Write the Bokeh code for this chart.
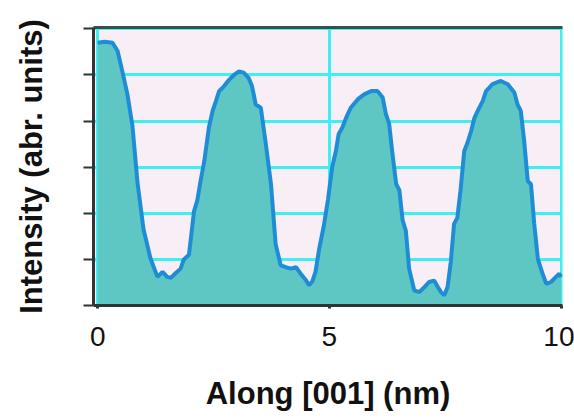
from bokeh.plotting import figure
from bokeh.models import LinearAxis, FixedTicker, Range1d
from bokeh.embed import file_html
from bokeh.resources import INLINE

# Line profile of intensity along the [001] direction
position_nm = [0, 0.15, 0.32, 0.43, 0.53, 0.64, 0.75, 0.86, 0.99, 1.14,
               1.29, 1.40, 1.50, 1.58, 1.68, 1.79, 1.86, 1.97, 2.08, 2.15,
               2.22, 2.30, 2.40, 2.48, 2.55, 2.62, 2.73, 2.84, 2.94, 3.05,
               3.15, 3.26, 3.33, 3.41, 3.52, 3.62, 3.74, 3.84, 3.95, 4.06,
               4.17, 4.28, 4.38, 4.50, 4.56, 4.63, 4.70, 4.78, 4.88, 4.97,
               5.06, 5.14, 5.20, 5.28, 5.36, 5.46, 5.61, 5.75, 5.90, 6.04,
               6.15, 6.22, 6.29, 6.36, 6.44, 6.51, 6.58, 6.65, 6.72, 6.83,
               6.94, 7.05, 7.15, 7.26, 7.34, 7.41, 7.48, 7.55, 7.62, 7.69,
               7.76, 7.83, 7.91, 7.98, 8.06, 8.13, 8.20, 8.31, 8.38, 8.52,
               8.70, 8.85, 8.99, 9.06, 9.13, 9.20, 9.28, 9.35, 9.42, 9.50,
               9.60, 9.68, 9.78, 9.89, 9.96, 10.0]
intensity = [5.70, 5.72, 5.70, 5.52, 5.09, 4.59, 3.90, 2.66, 1.65, 1.02,
             0.62, 0.73, 0.62, 0.60, 0.70, 0.80, 1.00, 1.10, 2.05, 2.28,
             2.70, 3.13, 3.86, 4.22, 4.43, 4.65, 4.76, 4.90, 5.00, 5.08,
             5.05, 4.93, 4.76, 4.36, 4.29, 3.57, 2.63, 1.33, 0.87, 0.83,
             0.80, 0.83, 0.69, 0.54, 0.44, 0.52, 0.73, 1.23, 1.73, 2.30,
             3.00, 3.35, 3.72, 3.86, 4.07, 4.29, 4.47, 4.58, 4.65, 4.65,
             4.51, 4.15, 3.94, 3.30, 2.64, 2.50, 1.85, 1.62, 0.80, 0.33,
             0.29, 0.40, 0.51, 0.54, 0.40, 0.29, 0.22, 0.40, 0.95, 1.77,
             1.90, 2.50, 3.35, 3.53, 3.79, 4.07, 4.22, 4.44, 4.65, 4.80,
             4.87, 4.80, 4.62, 4.36, 4.22, 3.60, 2.70, 2.63, 1.77, 1.00,
             0.69, 0.47, 0.51, 0.62, 0.69, 0.62]

x_ticks = [0, 5, 10]
y_ticks = [0, 1, 2, 3, 4, 5, 6]

FONT = "Liberation Sans"
GRID = "#3ef0f2"
AXIS = "#2e3434"

p = figure(width=574, height=419, output_backend="svg", toolbar_location=None,
           x_range=Range1d(-0.09, 10.03), y_range=Range1d(0, 6.03),
           min_border_left=93, min_border_right=12, min_border_top=27,
           min_border_bottom=114, background_fill_color="#f7eef6",
           border_fill_color="white", outline_line_color=None)

p.varea(x=position_nm, y1=0, y2=intensity, fill_color="#5ec7c4")
p.line(x=position_nm, y=intensity, line_color="#1f8dd6", line_width=4)

# grid
p.xgrid.ticker = FixedTicker(ticks=x_ticks)
p.ygrid.ticker = FixedTicker(ticks=y_ticks)
p.xgrid.grid_line_color = GRID
p.ygrid.grid_line_color = GRID
p.xgrid.grid_line_width = 3
p.ygrid.grid_line_width = 3

# x axis
xa = p.xaxis[0]
xa.ticker = FixedTicker(ticks=x_ticks)
xa.axis_line_color = AXIS
xa.axis_line_width = 3
xa.major_tick_line_color = AXIS
xa.major_tick_line_width = 3
xa.major_tick_out = 3
xa.major_tick_in = 0
xa.minor_tick_line_color = None
xa.major_label_text_font = FONT
xa.major_label_text_font_size = "28px"
xa.major_label_text_color = "#111111"
xa.major_label_standoff = 18
xa.axis_label = "Along [001] (nm)"
xa.axis_label_text_font = FONT
xa.axis_label_text_font_style = "bold"
xa.axis_label_text_font_size = "31px"
xa.axis_label_text_color = "#111111"
xa.axis_label_standoff = 27

# y axis (ticks only, no numbers)
ya = p.yaxis[0]
ya.ticker = FixedTicker(ticks=y_ticks)
ya.axis_line_color = AXIS
ya.axis_line_width = 3
ya.major_tick_line_color = AXIS
ya.major_tick_line_width = 2
ya.major_tick_out = 10
ya.major_tick_in = 0
ya.minor_tick_line_color = None
ya.major_label_overrides = {t: "" for t in y_ticks}
ya.major_label_text_font_size = "1px"
ya.major_label_standoff = 0
ya.axis_label = "Intensity (abr. units)"
ya.axis_label_text_font = FONT
ya.axis_label_text_font_style = "bold"
ya.axis_label_text_font_size = "31px"
ya.axis_label_text_color = "#111111"
ya.axis_label_standoff = 35

# dark top border of the frame
top = LinearAxis(ticker=FixedTicker(ticks=[]), axis_line_color="#3a4e4c",
                 axis_line_width=3, major_tick_line_color=None,
                 minor_tick_line_color=None, major_label_text_font_size="0px")
p.add_layout(top, "above")

open("out.html", "w").write(file_html(p, INLINE))
